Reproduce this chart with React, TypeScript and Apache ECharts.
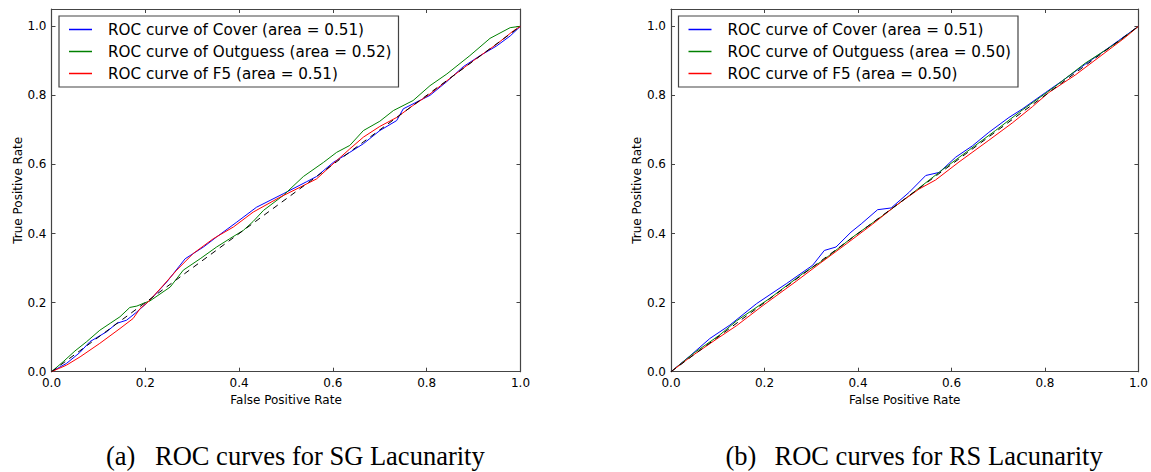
import React, { useEffect, useRef } from "react";
import * as echarts from "echarts";

const TICKS = [0, 0.2, 0.4, 0.6, 0.8, 1.0];

const sgCover = [
  [0, 0], [0.032, 0.024], [0.06, 0.055], [0.082, 0.087], [0.118, 0.116], [0.139, 0.14],
  [0.16, 0.149], [0.182, 0.173], [0.21, 0.207], [0.246, 0.26], [0.285, 0.327], [0.324, 0.361],
  [0.352, 0.39], [0.395, 0.433], [0.437, 0.476], [0.494, 0.515], [0.544, 0.55], [0.565, 0.565],
  [0.601, 0.606], [0.636, 0.635], [0.665, 0.66], [0.7, 0.698], [0.736, 0.727], [0.75, 0.761],
  [0.807, 0.8], [0.843, 0.84], [0.878, 0.883], [0.914, 0.915], [0.949, 0.943], [0.978, 0.972], [1, 1],
];
const sgOutguess = [
  [0, 0], [0.025, 0.029], [0.05, 0.06], [0.075, 0.087], [0.103, 0.12], [0.125, 0.14],
  [0.146, 0.159], [0.167, 0.186], [0.182, 0.19], [0.196, 0.198], [0.21, 0.205], [0.253, 0.245],
  [0.281, 0.294], [0.317, 0.327], [0.352, 0.361], [0.38, 0.385], [0.409, 0.409], [0.43, 0.435],
  [0.452, 0.467], [0.494, 0.51], [0.537, 0.565], [0.58, 0.606], [0.608, 0.635], [0.636, 0.655],
  [0.665, 0.698], [0.7, 0.725], [0.729, 0.756], [0.771, 0.785], [0.807, 0.828], [0.843, 0.862],
  [0.892, 0.915], [0.935, 0.965], [0.978, 0.996], [1, 1],
];
const sgF5 = [
  [0, 0], [0.032, 0.019], [0.061, 0.043], [0.103, 0.082], [0.146, 0.125], [0.174, 0.154],
  [0.189, 0.183], [0.206, 0.202], [0.235, 0.245], [0.267, 0.294], [0.302, 0.342], [0.345, 0.385],
  [0.388, 0.419], [0.43, 0.462], [0.487, 0.505], [0.53, 0.534], [0.565, 0.558], [0.608, 0.611],
  [0.636, 0.645], [0.665, 0.679], [0.7, 0.71], [0.736, 0.736], [0.77, 0.77], [0.807, 0.804],
  [0.857, 0.857], [0.899, 0.9], [0.949, 0.948], [0.985, 0.987], [1, 1],
];

const rsCover = [
  [0, 0], [0.04, 0.045], [0.083, 0.096], [0.126, 0.135], [0.183, 0.197], [0.247, 0.255],
  [0.303, 0.308], [0.328, 0.351], [0.353, 0.361], [0.385, 0.404], [0.407, 0.428], [0.442, 0.469],
  [0.471, 0.474], [0.51, 0.52], [0.545, 0.568], [0.574, 0.577], [0.609, 0.621], [0.645, 0.654],
  [0.68, 0.693], [0.723, 0.736], [0.751, 0.76], [0.801, 0.808], [0.837, 0.842], [0.886, 0.89],
  [0.922, 0.924], [0.957, 0.958], [1, 1],
];
const rsOutguess = [
  [0, 0], [0.048, 0.053], [0.104, 0.106], [0.14, 0.147], [0.211, 0.212], [0.282, 0.284],
  [0.325, 0.322], [0.389, 0.39], [0.453, 0.452], [0.51, 0.51], [0.581, 0.585], [0.638, 0.642],
  [0.694, 0.698], [0.751, 0.757], [0.822, 0.826], [0.886, 0.893], [0.957, 0.955], [1, 1],
];
const rsF5 = [
  [0, 0], [0.041, 0.042], [0.097, 0.094], [0.14, 0.133], [0.197, 0.192], [0.268, 0.262],
  [0.318, 0.313], [0.375, 0.37], [0.431, 0.427], [0.481, 0.481], [0.531, 0.529], [0.566, 0.555],
  [0.616, 0.607], [0.68, 0.67], [0.73, 0.72], [0.773, 0.767], [0.808, 0.808], [0.865, 0.859],
  [0.922, 0.917], [0.972, 0.968], [1, 1],
];
const diagonal = [[0, 0], [1, 1]];

const sgNames = [
  "ROC curve of Cover (area = 0.51)",
  "ROC curve of Outguess (area = 0.52)",
  "ROC curve of F5 (area = 0.51)",
];
const rsNames = [
  "ROC curve of Cover (area = 0.51)",
  "ROC curve of Outguess (area = 0.50)",
  "ROC curve of F5 (area = 0.50)",
];
const colors = ["#0000ff", "#008000", "#ff0000"];
const captions = [
  ["(a)", "ROC curves for SG Lacunarity"],
  ["(b)", "ROC curves for RS Lacunarity"],
];

const FONT = "DejaVu Sans";
const OFFSET = 619.5;
const GRID_LEFT = 51.5;
const GRID_TOP = 9;
const GRID_W = 469;
const GRID_H = 362.7;

export default function App() {
  const ref = useRef<HTMLDivElement>(null);
  useEffect(() => {
    if (!ref.current) return;
    const chart = echarts.init(ref.current, null, { renderer: "svg" });

    const frameLine = { show: true, onZero: false, lineStyle: { color: "#444", width: 1.2 } };
    const tick = { show: true, inside: true, length: 4, customValues: TICKS, lineStyle: { color: "#444", width: 1 } };
    const label = {
      show: true,
      customValues: TICKS,
      color: "#000",
      fontFamily: FONT,
      fontSize: 12,
      margin: 5,
      formatter: (v: number) => v.toFixed(1),
    };

    const xAxis: any[] = [];
    const yAxis: any[] = [];
    const grid: any[] = [];
    const legend: any[] = [];
    const series: any[] = [];
    const graphic: any[] = [];

    [0, 1].forEach((p) => {
      grid.push({ left: GRID_LEFT + p * OFFSET, top: GRID_TOP, width: GRID_W, height: GRID_H, containLabel: false });
      xAxis.push({
        type: "value", gridIndex: p, position: "bottom", min: 0, max: 1,
        axisLine: frameLine, axisTick: tick, axisLabel: label, splitLine: { show: false },
        name: "False Positive Rate", nameLocation: "middle", nameGap: 20,
        nameTextStyle: { fontFamily: FONT, fontSize: 12, color: "#000" },
      });
      xAxis.push({
        type: "value", gridIndex: p, position: "top", min: 0, max: 1,
        axisLine: frameLine, axisTick: tick, axisLabel: { show: false }, splitLine: { show: false },
      });
      yAxis.push({
        type: "value", gridIndex: p, position: "left", min: 0, max: 1.05,
        axisLine: frameLine, axisTick: tick, axisLabel: label, splitLine: { show: false },
        name: "True Positive Rate", nameLocation: "middle", nameGap: 28, nameRotate: 90,
        nameTextStyle: { fontFamily: FONT, fontSize: 12, color: "#000" },
      });
      yAxis.push({
        type: "value", gridIndex: p, position: "right", min: 0, max: 1.05,
        axisLine: frameLine, axisTick: tick, axisLabel: { show: false }, splitLine: { show: false },
      });

      const names = p === 0 ? sgNames : rsNames;
      const datas = p === 0 ? [sgCover, sgOutguess, sgF5] : [rsCover, rsOutguess, rsF5];
      datas.forEach((d, i) => {
        series.push({
          type: "line", name: names[i], xAxisIndex: p * 2, yAxisIndex: p * 2,
          data: d, symbol: "none", showSymbol: false, color: colors[i],
          lineStyle: { color: colors[i], width: 1 }, z: 2 + i,
        });
      });
      series.push({
        type: "line", name: "diag" + p, xAxisIndex: p * 2, yAxisIndex: p * 2,
        data: diagonal, symbol: "none", showSymbol: false, color: "#000",
        lineStyle: { color: "#000", width: 1, type: [6, 5] }, z: 6,
      });

      legend.push({
        data: names, orient: "vertical", left: 59 + p * OFFSET, top: 16,
        icon: "rect", itemWidth: 23, itemHeight: 1.5, itemGap: 7,
        padding: [6, 7, 6, 10],
        borderColor: "#444", borderWidth: 1.2, borderRadius: 0, backgroundColor: "#fff",
        selectedMode: false,
        textStyle: { fontFamily: FONT, fontSize: 15.2, lineHeight: 15, color: "#000", padding: [0, 0, 0, 11] },
      });

      graphic.push({
        type: "text", left: 106 + p * OFFSET, top: 442,
        style: { text: captions[p][0], font: "26.5px 'Liberation Serif'", fill: "#000" },
      });
      graphic.push({
        type: "text", left: 155 + p * OFFSET, top: 442,
        style: { text: captions[p][1], font: "26.5px 'Liberation Serif'", fill: "#000" },
      });
    });

    chart.setOption({
      animation: false,
      backgroundColor: "#fff",
      grid, xAxis, yAxis, series, legend, graphic,
    });
    return () => chart.dispose();
  }, []);
  return <div ref={ref} style={{ position: "fixed", left: 0, top: 0, width: 1151, height: 472 }} />;
}
